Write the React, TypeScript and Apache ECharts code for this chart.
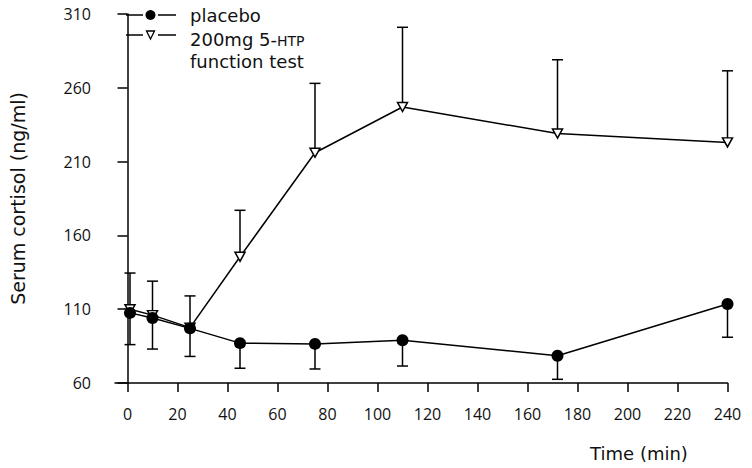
import React, { useEffect, useRef } from "react";
import * as echarts from "echarts";

const timeMin = [1, 10, 25, 45, 75, 110, 172, 240];
const placebo = [107.5, 104, 97, 87, 86.5, 89, 78.5, 113.5];
const placeboLower = [86, 83, 78, 70, 69.5, 71.5, 62.5, 91];
const htp = [110, 106, 97.5, 145.5, 216, 247, 229, 223];
const htpUpper = [134.5, 129, 119, 177, 263, 301, 279, 271.5];
const xTicks = [0, 20, 40, 60, 80, 100, 120, 140, 160, 180, 200, 220, 240];

const FONT = "'Open Sans', 'Noto Sans', sans-serif";
const TFONT = "'DejaVu Sans', 'Open Sans', sans-serif";

export default function App() {
  const ref = useRef<HTMLDivElement>(null);
  useEffect(() => {
    if (!ref.current) return;
    const chart = echarts.init(ref.current, null, { renderer: "svg" });
    const errRender = (params: any, api: any) => {
      const x = api.value(0);
      const a = api.value(1);
      const b = api.value(2);
      const p1 = api.coord([x, a]);
      const p2 = api.coord([x, b]);
      const hw = 5.5;
      return {
        type: "group",
        children: [
          { type: "line", shape: { x1: p1[0], y1: p1[1], x2: p2[0], y2: p2[1] }, style: { stroke: "#000", lineWidth: 1.5 } },
          { type: "line", shape: { x1: p2[0] - hw, y1: p2[1], x2: p2[0] + hw, y2: p2[1] }, style: { stroke: "#000", lineWidth: 1.5 } },
        ],
      };
    };
    const txt = (text: string, x: number, y: number, extra: any = {}) => ({
      type: "text",
      style: {
        text,
        x,
        y,
        fill: "#111",
        fontSize: 18,
        lineHeight: 20,
        fontFamily: TFONT,
        align: "left",
        textAlign: "left",
        verticalAlign: "middle",
        textVerticalAlign: "middle",
        ...extra,
      },
    });
    const ln = (x1: number, y1: number, x2: number, y2: number) => ({
      type: "line",
      shape: { x1, y1, x2, y2 },
      style: { stroke: "#000", lineWidth: 1.5 },
    });
    chart.setOption({
      animation: false,
      backgroundColor: "#fff",
      textStyle: { fontFamily: FONT },
      grid: { left: 111.5, right: 24.5, top: 14, bottom: 85 },
      xAxis: {
        type: "value",
        min: -5,
        max: 240,
        splitLine: { show: false },
        axisLine: { lineStyle: { color: "#000", width: 1.5 } },
        axisTick: { length: 9, lineStyle: { color: "#000", width: 1.5 }, customValues: xTicks },
        axisLabel: { customValues: xTicks, color: "#111", fontSize: 16, fontFamily: FONT, margin: 23 },
      },
      yAxis: {
        type: "value",
        min: 60,
        max: 310,
        interval: 50,
        name: "Serum cortisol (ng/ml)",
        nameLocation: "middle",
        nameGap: 88,
        nameTextStyle: { color: "#111", fontSize: 19, fontFamily: TFONT },
        splitLine: { show: false },
        axisLine: { show: true, lineStyle: { color: "#000", width: 1.5 } },
        axisTick: { show: true, length: 10, lineStyle: { color: "#000", width: 1.5 } },
        axisLabel: { color: "#111", fontSize: 16, fontFamily: FONT, margin: 24 },
      },
      graphic: [
        ln(126, 15, 143, 15),
        ln(158, 15, 176, 15),
        { type: "circle", shape: { cx: 150.5, cy: 15, r: 5 }, style: { fill: "#000" } },
        ln(126, 35, 143, 35),
        ln(158, 35, 176, 35),
        { type: "polygon", shape: { points: [[146.5, 31], [154.5, 31], [150.5, 39]] }, style: { fill: "#fff", stroke: "#000", lineWidth: 1.3 } },
        txt("placebo", 190, 15.5),
        {
          type: "text",
          style: {
            text: "{m|200mg 5-}{s|HTP}",
            x: 190,
            y: 38,
            fill: "#111",
            fontSize: 18,
            lineHeight: 20,
            fontFamily: TFONT,
            align: "left",
            textAlign: "left",
            verticalAlign: "middle",
            textVerticalAlign: "middle",
            rich: {
              m: { fontSize: 18, lineHeight: 20, fontFamily: TFONT, fill: "#111", color: "#111", verticalAlign: "bottom" },
              s: { fontSize: 14, lineHeight: 17, fontFamily: TFONT, fill: "#111", color: "#111", verticalAlign: "bottom" },
            },
          },
        },
        txt("function test", 190, 61),
        txt("Time (min)", 639, 453, { align: "center", textAlign: "center" }),
      ],
      series: [
        {
          type: "custom",
          name: "htpErr",
          renderItem: errRender,
          data: timeMin.map((t, i) => [t, htp[i], htpUpper[i]]),
          encode: { x: 0, y: [1, 2] },
          z: 1,
        },
        {
          type: "custom",
          name: "placeboErr",
          renderItem: errRender,
          data: timeMin.map((t, i) => [t, placebo[i], placeboLower[i]]),
          encode: { x: 0, y: [1, 2] },
          z: 1,
        },
        {
          type: "line",
          name: "200mg 5-HTP function test",
          data: timeMin.map((t, i) => [t, htp[i]]),
          symbol: "triangle",
          symbolRotate: 180,
          symbolSize: [10, 9],
          showAllSymbol: true,
          itemStyle: { color: "#fff", borderColor: "#000", borderWidth: 1.5 },
          lineStyle: { color: "#000", width: 1.5 },
          z: 3,
        },
        {
          type: "line",
          name: "placebo",
          data: timeMin.map((t, i) => [t, placebo[i]]),
          symbol: "circle",
          symbolSize: 12,
          showAllSymbol: true,
          itemStyle: { color: "#000", borderColor: "#000", borderWidth: 0 },
          lineStyle: { color: "#000", width: 1.5 },
          z: 4,
        },
      ],
    });
    return () => chart.dispose();
  }, []);
  return <div ref={ref} style={{ position: "fixed", left: 0, top: 0, width: 752, height: 468 }} />;
}
